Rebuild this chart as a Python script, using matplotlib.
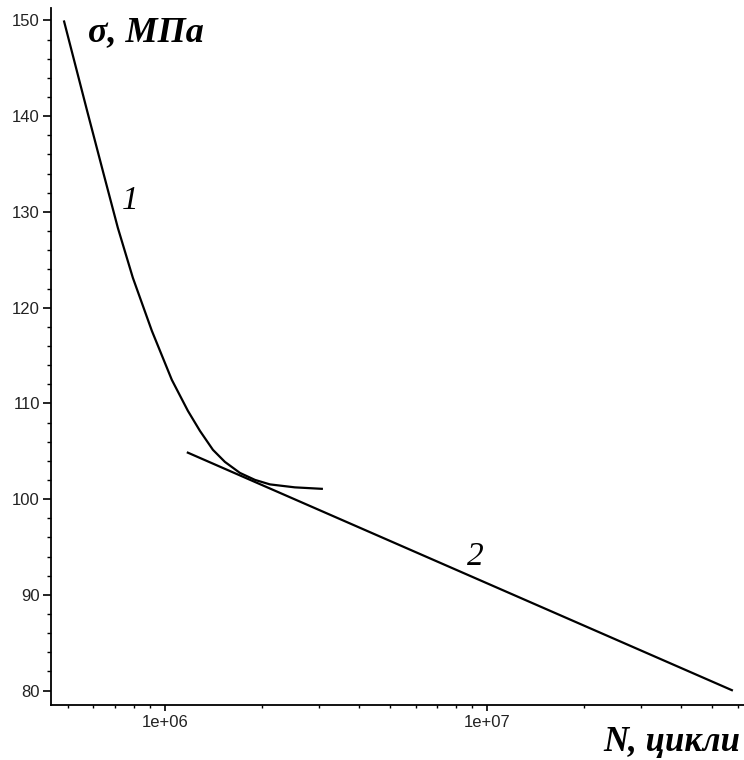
import matplotlib
matplotlib.use("Agg")
import matplotlib.pyplot as plt
from matplotlib.ticker import LogLocator, FixedLocator, NullFormatter, MultipleLocator

# Curve 1 (N cycles, stress MPa)
curve1_N = [4.857e5, 5.725e5, 6.465e5, 7.145e5, 7.955e5, 9.112e5, 1.051e6, 1.179e6,
            1.285e6, 1.410e6, 1.536e6, 1.710e6, 1.904e6, 2.119e6, 2.533e6, 3.095e6]
curve1_S = [150.0, 140.67, 133.88, 128.34, 123.12, 117.58, 112.46, 109.22,
            107.13, 105.15, 103.89, 102.74, 102.01, 101.54, 101.23, 101.07]

# Line 2
line2_N = [1.17e6, 5.8e7]
line2_S = [104.9, 80.0]

y_ticks = [80, 90, 100, 110, 120, 130, 140, 150]
x_ticks = [1e6, 1e7]
x_tick_labels = ["1e+06", "1e+07"]

fig = plt.figure(figsize=(7.44, 7.60), dpi=100)
ax = fig.add_axes([0.0685, 0.0724, 0.9315, 0.9171])

ax.plot(curve1_N, curve1_S, color="black", lw=1.6, solid_capstyle="butt",
        solid_joinstyle="round")
ax.plot(line2_N, line2_S, color="black", lw=1.6, solid_capstyle="butt")

ax.set_xscale("log")
ax.set_xlim(4.43e5, 6.28e7)
ax.set_ylim(78.5, 151.3)

ax.spines["top"].set_visible(False)
ax.spines["right"].set_visible(False)
ax.spines["left"].set_linewidth(1.3)
ax.spines["bottom"].set_linewidth(1.3)

ax.xaxis.set_major_locator(FixedLocator(x_ticks))
ax.set_xticklabels(x_tick_labels)
ax.xaxis.set_minor_locator(LogLocator(base=10, subs=range(2, 10)))
ax.xaxis.set_minor_formatter(NullFormatter())
ax.set_yticks(y_ticks)
ax.yaxis.set_minor_locator(MultipleLocator(2))

for lab in ax.get_xticklabels() + ax.get_yticklabels():
    lab.set_fontfamily("Liberation Sans")
    lab.set_fontsize(12)
    lab.set_color("#222222")

ax.tick_params(axis="y", which="major", length=6, width=1.2, direction="out", pad=2)
ax.tick_params(axis="y", which="minor", length=3, width=1.0, direction="out")
ax.tick_params(axis="x", which="major", length=4, width=1.2, direction="out", pad=3)
ax.tick_params(axis="x", which="minor", length=2.5, width=1.0, direction="out")

# Axis titles
fig.text(88 / 744, 1 - 33 / 760, "σ, МПа", family="Liberation Serif", style="italic",
         weight="bold", size=26, ha="left", va="center")
fig.text(740 / 744, 1 - 743 / 760, "N, цикли", family="Liberation Serif", style="italic",
         weight="bold", size=25, ha="right", va="center")

# Curve labels
ax.text(7.78e5, 131.2, "1", family="Liberation Serif", style="italic", size=24,
        ha="center", va="center")
ax.text(9.18e6, 94.0, "2", family="Liberation Serif", style="italic", size=24,
        ha="center", va="center")

fig.savefig("out.png", dpi=100)
